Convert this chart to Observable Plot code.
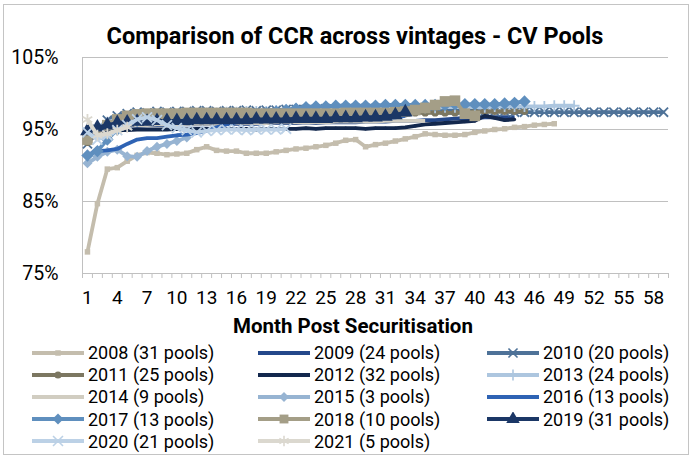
<!DOCTYPE html>
<html>
<head>
<meta charset="utf-8">
<script src="https://cdn.jsdelivr.net/npm/d3@7"></script>
<script src="https://cdn.jsdelivr.net/npm/@observablehq/plot@0.6"></script>
<style>
  body { margin: 0; background: #fff; font-family: Roboto, "Noto Sans", sans-serif; color: #000; }
  #wrap { position: relative; width: 691px; height: 456px; overflow: hidden; background: #fff; }
  #frame { position: absolute; left: 3px; top: 4px; width: 684px; height: 449px; border: 1px solid #c4c4c4; pointer-events: none; }
  #title { position: absolute; left: 0; width: 710px; top: 22px; text-align: center; font-weight: 700; font-size: 23.5px; line-height: 28px; }
  #xlabel { position: absolute; left: 0; width: 706px; top: 313px; text-align: center; font-weight: 700; font-size: 20.5px; line-height: 26px; }
  .leg { position: absolute; height: 22px; display: flex; align-items: center; font-size: 18px; white-space: nowrap; }
  .leg svg { margin-right: 4px; }
  #chart { position: absolute; left: 0; top: 0; }
</style>
</head>
<body>
<div id="wrap">
  <div id="chart"></div>
  <div id="title">Comparison of CCR across vintages - CV Pools</div>
  <div id="xlabel">Month Post Securitisation</div>
  <div id="frame"></div>
</div>
<script>
// ---- Data (CCR %, by month post securitisation, starting at month 1) ----
const vintages = [
  "2008 (31 pools)", "2009 (24 pools)", "2010 (20 pools)",
  "2011 (25 pools)", "2012 (32 pools)", "2013 (24 pools)",
  "2014 (9 pools)", "2015 (3 pools)", "2016 (13 pools)",
  "2017 (13 pools)", "2018 (10 pools)", "2019 (31 pools)",
  "2020 (21 pools)", "2021 (5 pools)"
];
const v2008 = [78.0,84.7,89.5,89.7,90.6,91.4,91.8,91.7,91.5,91.6,91.7,92.2,92.6,92.1,92.0,92.0,91.7,91.7,91.7,91.9,92.1,92.3,92.4,92.6,92.8,93.1,93.5,93.6,92.6,92.9,93.1,93.4,93.7,94.0,94.4,94.3,94.2,94.2,94.3,94.6,94.8,95.0,95.1,95.3,95.4,95.6,95.7,95.8];
const v2009 = [94.0,95.0,95.3,95.4,95.5,95.5,95.6,95.6,95.6,95.7,95.7,95.7,95.7,95.8,95.8,95.8,95.8,95.8,95.9,95.9,95.9,95.9,96.0,95.9,96.0,96.0,96.0,96.0,96.1,96.1,96.1,96.2,96.2,96.2,96.3,96.3,96.4,96.5,96.6,96.6,96.7,96.7,96.7,96.7];
const v2010 = [93.0,95.0,96.3,96.9,97.2,97.4,97.3,97.5,97.4,97.5,97.5,97.6,97.6,97.5,97.6,97.6,97.7,97.6,97.7,97.7,97.8,97.8,97.8,97.8,97.9,97.8,97.9,97.9,97.9,97.9,97.9,97.9,97.9,97.8,97.8,97.8,97.7,97.7,97.6,97.6,97.5,97.5,97.5,97.4,97.4,97.4,97.4,97.4,97.4,97.4,97.4,97.4,97.4,97.4,97.4,97.4,97.4,97.4,97.4];
const v2011 = [93.2,94.6,95.4,95.9,96.2,96.4,96.5,96.6,96.7,96.8,96.8,96.9,96.9,96.9,97.0,97.0,97.0,97.0,97.0,97.1,97.1,97.1,97.1,97.1,97.1,97.1,97.1,97.2,97.2,97.2,97.2,97.2,97.2,97.3,97.3,97.3,97.3,97.3,97.4,97.4,97.5,97.5,97.5,97.5,97.5];
const v2012 = [93.3,94.4,94.7,94.9,94.9,95.0,95.0,95.0,95.0,95.1,95.0,95.1,95.1,95.0,95.1,95.1,95.1,95.0,95.1,95.1,95.1,95.1,95.2,95.1,95.2,95.2,95.2,95.2,95.1,95.2,95.2,95.2,95.3,95.5,95.7,95.8,95.9,96.0,96.1,96.2,96.9,96.6,96.3,96.4];
const v2013 = [94.0,95.3,96.0,96.4,96.6,96.8,96.9,97.0,97.0,97.1,97.2,97.2,97.3,97.3,97.4,97.4,97.5,97.5,97.5,97.6,97.6,97.7,97.7,97.7,97.8,97.8,97.8,97.9,97.9,97.9,97.9,98.0,98.0,98.0,98.0,98.0,98.1,98.1,98.1,98.1,98.1,98.2,98.2,98.2,98.2,98.2,98.2,98.3,98.3,98.3];
const v2014 = [93.8,94.8,95.2,95.4,95.5,95.6,95.6,95.7,95.7,95.7,95.8,95.8,95.8,95.8,95.9,95.9,95.9,95.9,95.9,96.0,96.0,96.0,96.0,96.0,96.0,96.1,96.1,96.1,96.1,96.1,96.2,96.2,96.2,96.2,96.2];
const v2015 = [90.3,91.2,91.9,92.2,91.3,91.2,92.0,92.6,93.0,93.4,93.9];
const v2016 = [91.5,92.0,92.1,92.3,93.0,93.6,93.8,93.8,94.0,94.2,94.3,94.5,94.8,95.3,95.7,96.0,96.1,96.2,96.2,96.2,96.3,96.3,96.3,96.3,96.4,96.4,96.4,96.5,96.5,96.5,96.6,96.7,96.9];
const v2017 = [91.4,92.0,93.6,95.0,95.8,96.2,96.4,96.5,96.6,96.7,96.8,96.9,96.9,97.0,97.0,97.1,97.1,97.2,97.3,97.5,97.7,97.9,98.1,98.2,98.2,98.3,98.3,98.3,98.3,98.3,98.4,98.4,98.4,98.4,98.4,98.4,98.4,98.5,98.5,98.5,98.5,98.5,98.6,98.7,98.9];
const v2018 = [93.6,94.8,95.6,96.4,96.9,97.1,97.2,97.2,97.2,97.2,97.3,97.3,97.3,97.3,97.3,97.3,97.3,97.2,97.2,97.2,97.2,97.2,97.2,97.2,97.2,97.2,97.3,97.3,97.3,97.3,97.3,97.4,97.5,97.7,98.0,98.4,98.9,99.0,97.2,96.9];
const v2019 = [94.8,95.3,95.6,95.9,96.0,96.1,96.1,96.2,96.2,96.2,96.2,96.3,96.3,96.3,96.3,96.3,96.3,96.4,96.4,96.4,96.4,96.5,96.5,96.5,96.5,96.6,96.6,96.6,96.7,96.7,96.8,97.0,97.4];
const v2020 = [94.6,93.6,94.2,94.9,95.6,96.4,96.7,96.3,95.6,95.2,94.9,94.6,94.8,94.9,95.0,95.0,94.9,95.0,95.0,95.0,95.1];
const v2021 = [96.4,94.2,94.4,94.9,95.3];
const seriesValues = [v2008, v2009, v2010, v2011, v2012, v2013, v2014, v2015, v2016, v2017, v2018, v2019, v2020, v2021];

const yTicks = [75, 85, 95, 105];
const xTickLabels = d3.range(1, 59, 3);          // 1, 4, ..., 58
const xCategoryEdges = d3.range(0.5, 60, 1);     // category boundaries 0.5 ... 59.5

// ---- Styles (kept apart from the data) ----
const colors = ["#c4bdad", "#24488a", "#4e7298", "#7c7761", "#13284d", "#adc6df", "#d1cdc1",
                "#97b4d2", "#2e63b4", "#5f8fbe", "#a49e87", "#1b3766", "#bcd1e6", "#dbd8cf"];
const symbols = ["square", null, "times", "circle", "circle", "plus", null,
                 "diamond2", null, "diamond2", "square", "triangle", "times", "asterisk"];
const markerR = [3.1, 0, 4.2, 3.6, 1.6, 3.6, 0, 4.5, 0, 5.6, 6, 5.4, 4.6, 5.2];
const strokeSymbols = new Set(["times", "plus", "asterisk"]);

const rows = [];
vintages.forEach((name, i) => seriesValues[i].forEach((v, j) => rows.push({vintage: name, month: j + 1, ccr: v})));

const seriesMarks = vintages.flatMap((name, i) => {
  const d = rows.filter(r => r.vintage === name);
  const marks = [Plot.line(d, {x: "month", y: "ccr", stroke: colors[i], strokeWidth: 3.8, strokeLinejoin: "round", strokeLinecap: "butt"})];
  if (symbols[i]) {
    const st = strokeSymbols.has(symbols[i]);
    marks.push(Plot.dot(d, {x: "month", y: "ccr", symbol: symbols[i], r: markerR[i],
      fill: st ? "none" : colors[i], stroke: st ? colors[i] : "none", strokeWidth: st ? 1.8 : 0}));
  }
  return marks;
});

const chart = Plot.plot({
  width: 691, height: 456,
  marginLeft: 82, marginRight: 23, marginTop: 57, marginBottom: 183,
  style: {fontFamily: "Roboto, 'Noto Sans', sans-serif", fontSize: "19px", color: "#000", background: "transparent", overflow: "visible"},
  x: {domain: [0.5, 59.5]},
  y: {domain: [75, 105]},
  marks: [
    Plot.gridY([85, 95, 105], {stroke: "#c0c0c0", strokeOpacity: 1, strokeWidth: 1}),
    Plot.ruleY([75], {stroke: "#c0c0c0"}),
    Plot.ruleX([0.5], {stroke: "#c0c0c0"}),
    Plot.axisX(xCategoryEdges, {tickSize: 5, tickFormat: () => "", stroke: "#c0c0c0", label: null}),
    Plot.axisX(xTickLabels, {tickSize: 0, tickPadding: 17, label: null, fill: "#000"}),
    Plot.axisY(yTicks, {tickSize: 0, tickPadding: 24, tickFormat: d => d + "%", label: null, fill: "#000", fontSize: 19.5}),
    ...seriesMarks
  ]
});
document.getElementById("chart").appendChild(chart);

// ---- Legend (HTML, 3 columns) ----
const colX = [32, 258, 487];
const rowY = [352.5, 374.7, 396.9, 419.1, 441.3];
const wrap = document.getElementById("wrap");
const symMap = {square: d3.symbolSquare, circle: d3.symbolCircle, times: d3.symbolTimes, plus: d3.symbolPlus,
  diamond2: d3.symbolDiamond2, triangle: d3.symbolTriangle, asterisk: d3.symbolAsterisk};
vintages.forEach((name, i) => {
  const item = document.createElement("div");
  item.className = "leg";
  item.style.left = colX[i % 3] + "px";
  item.style.top = (rowY[Math.floor(i / 3)] - 11) + "px";
  const sw = d3.create("svg").attr("width", 52).attr("height", 14);
  sw.append("line").attr("x1", 0).attr("x2", 52).attr("y1", 7).attr("y2", 7)
    .attr("stroke", colors[i]).attr("stroke-width", 4);
  if (symbols[i]) {
    const st = strokeSymbols.has(symbols[i]);
    const r = Math.min(markerR[i], 5);
    sw.append("path").attr("transform", "translate(26,7)")
      .attr("d", d3.symbol(symMap[symbols[i]], Math.PI * r * r)())
      .attr("fill", st ? "none" : colors[i]).attr("stroke", st ? colors[i] : "none").attr("stroke-width", st ? 1.6 : 0);
  }
  item.appendChild(sw.node());
  const t = document.createElement("span");
  t.textContent = name;
  item.appendChild(t);
  wrap.appendChild(item);
});
</script>
</body>
</html>
